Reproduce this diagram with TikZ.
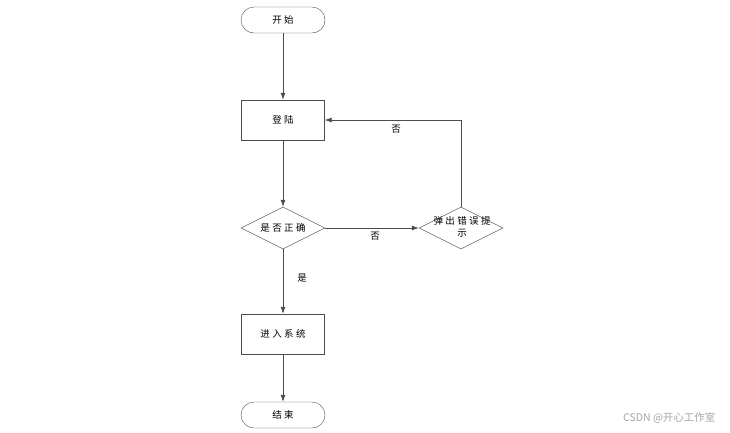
\documentclass[tikz,border=0pt]{standalone}
\usepackage{fontspec}
\newfontfamily\cjk{Noto Sans CJK SC}
\newfontfamily\cjkw[LetterSpace=25]{Noto Sans CJK SC}
\usetikzlibrary{shapes.geometric,arrows.meta}
\begin{document}
\begin{tikzpicture}[x=1pt,y=-1pt,
  every node/.style={font=\cjkw\fontsize{9.5}{12}\selectfont},
  term/.style={draw=black!70, rounded corners=13pt, minimum width=84pt, minimum height=26pt, inner sep=0pt},
  proc/.style={draw=black!70, minimum width=83pt, minimum height=40pt, inner sep=0pt},
  dec/.style={draw=black!70, diamond, aspect=2, minimum width=84pt, minimum height=42pt, inner sep=0pt},
  conn/.style={draw=black!70, line width=0.8pt, -{Latex[length=7pt,width=5pt]}},
  lab/.style={font=\cjkw\fontsize{9.5}{12}\selectfont}
]
\useasboundingbox (0,0) rectangle (730,432);
\fill[white] (0,0) rectangle (730,432);
\node[term] (start) at (283,20) {开始};
\node[proc] (login) at (283,120) {登陆};
\node[dec] (check) at (283,228) {是否正确};
\node[dec] (err) at (461,228) {};
\node[lab, align=center] (errtxt) at (462,227) {弹出错误提\\示};
\node[proc] (enter) at (283,334) {进入系统};
\node[term] (end) at (283,415) {结束};
\coordinate (corner) at (461,120);
\draw[conn] (start) -- (login);
\draw[conn] (login) -- (check);
\draw[conn] (check.east) -- (err.west);
\draw[conn] (err.north) -- (corner) -- (login.east);
\draw[conn] (check.south) -- (enter.north);
\draw[conn] (enter) -- (end);
\node[lab] (no1) at (375,236) {否};
\node[lab] (no2) at (396,129) {否};
\node[lab] (yes) at (302,278) {是};
\node[font=\cjk\fontsize{10.5}{12}\selectfont, text=black!35, anchor=east] (wm) at (719,418) {CSDN @开心工作室};
\end{tikzpicture}
\end{document}
